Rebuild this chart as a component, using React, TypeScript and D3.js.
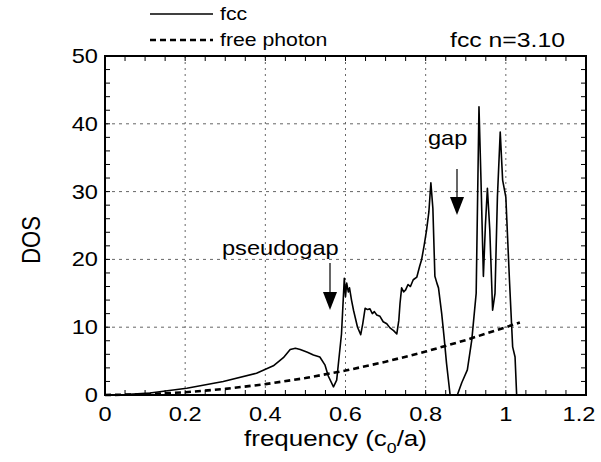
import React from "react";
import * as d3 from "d3";

const fccFreq = [0, 0.05, 0.112, 0.204, 0.295, 0.378, 0.42, 0.445, 0.462, 0.475, 0.487, 0.505, 0.52, 0.536, 0.549, 0.557, 0.57, 0.578, 0.59, 0.597, 0.6, 0.603, 0.607, 0.61, 0.615, 0.62, 0.63, 0.638, 0.643, 0.649, 0.655, 0.661, 0.667, 0.672, 0.678, 0.686, 0.694, 0.703, 0.711, 0.72, 0.728, 0.733, 0.736, 0.74, 0.745, 0.75, 0.756, 0.762, 0.769, 0.778, 0.785, 0.79, 0.796, 0.802, 0.808, 0.813, 0.818, 0.823, 0.828, 0.832, 0.84, 0.846, 0.852, 0.861, 0.879, 0.89, 0.904, 0.915, 0.926, 0.933, 0.938, 0.944, 0.949, 0.954, 0.96, 0.967, 0.973, 0.979, 0.986, 0.992, 1.0, 1.009, 1.017, 1.023, 1.027];
const fccDos = [0, 0.05, 0.3, 1.0, 2.0, 3.2, 4.3, 5.5, 6.7, 6.9, 6.7, 6.3, 5.9, 5.6, 4.4, 2.8, 1.2, 2.2, 9.0, 17.2, 14.5, 16.5, 15.2, 15.8, 14.0, 12.5, 10.0, 8.9, 10.5, 12.8, 12.6, 12.7, 12.0, 12.3, 11.8, 11.6, 10.8, 10.5, 9.9, 9.5, 9.0, 11.0, 13.5, 15.8, 15.2, 15.5, 16.3, 16.0, 17.0, 17.4, 19.0, 20.0, 22.0, 24.2, 27.0, 31.3, 27.5, 17.5, 16.5, 15.8, 12.0, 8.5, 4.7, 0, 0, 1.8, 3.7, 8.1, 15.0, 42.5, 31.7, 17.5, 25.0, 30.5, 24.3, 12.5, 15.0, 29.2, 38.8, 31.7, 29.2, 17.0, 7.1, 5.6, 0];

const photonFreq = [0, 0.1, 0.2, 0.3, 0.4, 0.5, 0.6, 0.7, 0.8, 0.9, 1.0, 1.035];
const photonDos = [0, 0.1, 0.4, 0.9, 1.6, 2.5, 3.6, 4.9, 6.4, 8.1, 10.0, 10.7];

const xTicks = [0, 0.2, 0.4, 0.6, 0.8, 1.0, 1.2];
const xTickLabels = ["0", "0.2", "0.4", "0.6", "0.8", "1", "1.2"];
const yTicks = [0, 10, 20, 30, 40, 50];
const legendLabels = ["fcc", "free photon"];

const W = 601, H = 462;
const L = 105, R = 586, T = 56, B = 395;
const FONT = "'Liberation Sans', Arial, sans-serif";
const SX = 1.18;

const Txt = ({ x, y, size, anchor = "start", sx = SX, children }: any) => (
  <text transform={`translate(${x},${y}) scale(${sx},1)`} fontSize={size} textAnchor={anchor} fontFamily={FONT} fill="#000">
    {children}
  </text>
);

export default function App() {
  const x = d3.scaleLinear().domain([0, 1.2]).range([L, R]);
  const y = d3.scaleLinear().domain([0, 50]).range([B, T]);
  const line = d3.line<[number, number]>().x(d => x(d[0])).y(d => y(d[1]));
  const fccPts = fccFreq.map((f, i) => [f, fccDos[i]] as [number, number]);
  const phPts = photonFreq.map((f, i) => [f, photonDos[i]] as [number, number]);
  const xMinor = d3.range(0, 1.2001, 0.05);
  const yMinor = d3.range(0, 50.001, 2);

  const arrow = (cx: number, y0: number, y1: number, y2: number) => (
    <g>
      <line x1={cx} x2={cx} y1={y0} y2={y1} stroke="#000" strokeWidth={1.2} />
      <path d={`M${cx - 7},${y1} L${cx + 7},${y1} L${cx},${y2} Z`} fill="#000" />
    </g>
  );

  return (
    <svg width={W} height={H} style={{ position: "absolute", left: 0, top: 0, background: "#fff" }}>
      <rect x={0} y={0} width={W} height={H} fill="#fff" />
      {/* grid */}
      {xTicks.slice(1, -1).map(t => (
        <line key={"gx" + t} x1={x(t)} x2={x(t)} y1={T} y2={B} stroke="#666" strokeWidth={1} strokeDasharray="2,4" />
      ))}
      {yTicks.slice(1, -1).map(t => (
        <line key={"gy" + t} x1={L} x2={R} y1={y(t)} y2={y(t)} stroke="#666" strokeWidth={1} strokeDasharray="3,4" />
      ))}
      {/* minor ticks */}
      {xMinor.map((t, i) => (
        <g key={"xm" + i}>
          <line x1={x(t)} x2={x(t)} y1={B} y2={B - 5} stroke="#000" strokeWidth={1} />
          <line x1={x(t)} x2={x(t)} y1={T} y2={T + 5} stroke="#000" strokeWidth={1} />
        </g>
      ))}
      {yMinor.map((t, i) => (
        <g key={"ym" + i}>
          <line x1={L} x2={L + 5} y1={y(t)} y2={y(t)} stroke="#000" strokeWidth={1} />
          <line x1={R} x2={R - 5} y1={y(t)} y2={y(t)} stroke="#000" strokeWidth={1} />
        </g>
      ))}
      {/* curves */}
      <path d={line(phPts) || ""} fill="none" stroke="#000" strokeWidth={2.6} strokeDasharray="6,4" />
      <path d={line(fccPts) || ""} fill="none" stroke="#000" strokeWidth={1.6} strokeLinejoin="round" />
      {/* frame */}
      <rect x={L} y={T} width={R - L} height={B - T} fill="none" stroke="#000" strokeWidth={2} />
      {/* tick labels */}
      {xTicks.map((t, i) => (
        <Txt key={"xl" + t} x={Math.min(x(t), 579)} y={421} size={20} anchor="middle">{xTickLabels[i]}</Txt>
      ))}
      {yTicks.map(t => (
        <Txt key={"yl" + t} x={98} y={y(t) + 7} size={20} anchor="end">{String(t)}</Txt>
      ))}
      {/* axis titles */}
      <g transform={`translate(${x(0.6) - 10},446) scale(${SX},1)`}>
        <text fontSize={22} fontFamily={FONT} textAnchor="middle">
          frequency (c<tspan fontSize={15} dy={7}>0</tspan><tspan dy={-7}>/a)</tspan>
        </text>
      </g>
      <text transform="translate(40,240) rotate(-90) scale(1.05,1.2)" fontSize={21} fontFamily={FONT} textAnchor="middle">DOS</text>
      {/* annotations */}
      <Txt x={222} y={255} size={20}>pseudogap</Txt>
      {arrow(330, 263, 292, 310)}
      <Txt x={428} y={145} size={20}>gap</Txt>
      {arrow(457, 169, 197, 215)}
      <Txt x={450} y={47} size={21}>fcc n=3.10</Txt>
      {/* legend */}
      <line x1={150} x2={213} y1={14} y2={14} stroke="#000" strokeWidth={1.6} />
      <Txt x={220} y={20} size={18}>{legendLabels[0]}</Txt>
      <line x1={150} x2={213} y1={40} y2={40} stroke="#000" strokeWidth={2.6} strokeDasharray="6,4" />
      <Txt x={220} y={46} size={18}>{legendLabels[1]}</Txt>
    </svg>
  );
}
